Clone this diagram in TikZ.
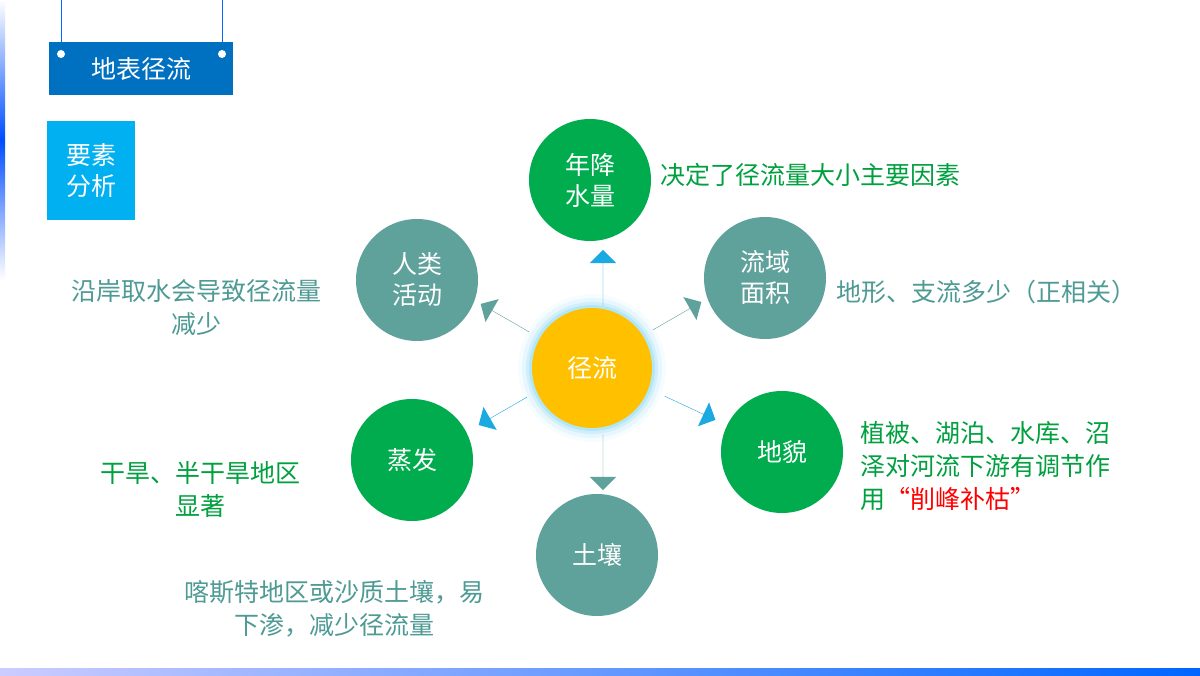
\documentclass[tikz,border=0pt]{standalone}
\usepackage{fontspec}
\setmainfont{Noto Sans CJK SC}
\usetikzlibrary{shapes.arrows}
\definecolor{hgreen}{HTML}{00AC4E}
\definecolor{hteal}{HTML}{5FA19B}
\definecolor{hblue}{HTML}{1BA9E1}
\definecolor{horange}{HTML}{FFC000}
\definecolor{tgreen}{HTML}{00A040}
\definecolor{tteal}{HTML}{4E9A94}
\tikzset{
  ball/.style={circle, minimum size=122pt, inner sep=0pt, text=white, font=\fontsize{25}{31}\selectfont, align=center},
  fat/.style={single arrow, minimum height=56pt, minimum width=26pt, single arrow head extend=13pt, inner sep=0pt},
  note/.style={font=\fontsize{25}{33}\selectfont, align=left}
}
\begin{document}
\begin{tikzpicture}[x=1pt,y=-1pt]
    \useasboundingbox (0,0) rectangle (1200,676);
    \fill[white] (0,0) rectangle (1200,676);
    % Frame bars
    \shade[top color=white, bottom color=white, middle color=blue!70!cyan] (0,0) rectangle (5,280);
    \shade[left color=blue!20, right color=blue!60!cyan] (0,668) rectangle (1200,676);

    % Title sign
    \draw[blue!60!cyan] (61,0) -- (61,43) (222,0) -- (222,43);
    \node[fill={rgb,255:red,0;green,112;blue,192}, minimum width=184pt, minimum height=53pt, text=white, font=\fontsize{25}{30}\selectfont] (title) at (141,69) {地表径流};
    \fill[white] (61,54) circle (4) (222,54) circle (4);
    \node[fill={rgb,255:red,0;green,176;blue,240}, minimum width=88pt, minimum height=99pt, text=white, font=\fontsize{25}{31}\selectfont, align=center] (tag) at (91,171) {要素\\分析};

    % Centre
    \foreach \r/\o in {74/0.08,70/0.15,66/0.3,63/0.5} {
        \fill[cyan!40, opacity=\o] (592,368) circle (\r);
    }
    \node[ball, fill=horange, minimum size=120pt] (core) at (592,368) {径流};

    % Factors
    \node[ball, fill=hgreen] (rain) at (590,180) {年降\\水量};
    \node[ball, fill=hteal] (basin) at (765,278) {流域\\面积};
    \node[ball, fill=hgreen] (relief) at (782,452) {地貌};
    \node[ball, fill=hteal] (soil) at (597,555) {土壤};
    \node[ball, fill=hgreen] (evap) at (412,460) {蒸发};
    \node[ball, fill=hteal] (human) at (417,280) {人类\\活动};

    % Arrows
    \node[fat, fill=hblue, rotate=90] (a1) at (603,278) {};
    \node[fat, fill=hteal, rotate=30] (a2) at (677,316) {};
    \node[fat, fill=hblue, rotate=-25] (a3) at (690,408) {};
    \node[fat, fill=hteal, rotate=-90] (a4) at (603,462) {};
    \node[fat, fill=hblue, rotate=-150] (a5) at (503,411) {};
    \node[fat, fill=hteal, rotate=150] (a6) at (505,318) {};

    % Notes
    \node[note, text=tgreen, anchor=west] (n1) at (657,175) {决定了径流量大小主要因素};
    \node[note, text=tteal, anchor=west] (n2) at (833,292) {地形、支流多少（正相关）};
    \node[note, text=tgreen, anchor=north west] (n3) at (857,418) {植被、湖泊、水库、沼\\泽对河流下游有调节作\\用\textcolor{red}{“削峰补枯”}};
    \node[note, text=tteal, align=center] (n4) at (334,609) {喀斯特地区或沙质土壤，易\\下渗，减少径流量};
    \node[note, text=tgreen, align=center] (n5) at (200,489) {干旱、半干旱地区\\显著};
    \node[note, text=tteal, align=center] (n6) at (196,308) {沿岸取水会导致径流量\\减少};
\end{tikzpicture}
\end{document}
